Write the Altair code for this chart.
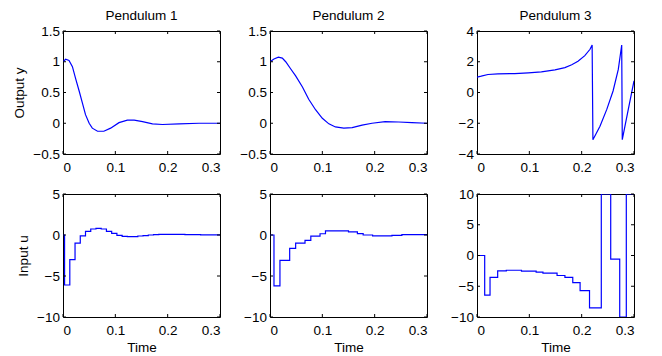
import altair as alt
import pandas as pd

# ---------------- data ----------------
# Pendulum 1, output y
t_y1 = [0, 0.005, 0.0115, 0.018, 0.024, 0.031, 0.037, 0.043, 0.050, 0.056, 0.066, 0.078,
        0.091, 0.107, 0.123, 0.136, 0.152, 0.171, 0.19, 0.222, 0.26, 0.3]
v_y1 = [1.0, 1.04, 1.02, 0.92, 0.73, 0.52, 0.33, 0.14, 0.0, -0.08, -0.13, -0.13,
        -0.08, 0.01, 0.05, 0.05, 0.025, -0.01, -0.02, -0.01, 0.0, 0.0]
# Pendulum 2, output y
t_y2 = [0, 0.0076, 0.016, 0.0235, 0.03, 0.039, 0.049, 0.062, 0.074, 0.087, 0.10, 0.1125,
        0.125, 0.141, 0.157, 0.176, 0.195, 0.22, 0.246, 0.271, 0.3]
v_y2 = [1.0, 1.045, 1.075, 1.06, 1.0, 0.89, 0.77, 0.59, 0.39, 0.22, 0.08, -0.01,
        -0.06, -0.08, -0.07, -0.03, 0.0, 0.025, 0.02, 0.01, 0.0]
# Pendulum 3, output y (wrapped angle)
t_y3 = [0, 0.008, 0.021, 0.04, 0.072, 0.098, 0.123, 0.149, 0.168, 0.181, 0.193, 0.206,
        0.216, 0.220, 0.2215, 0.235, 0.248, 0.26, 0.27, 0.2765, 0.2776, 0.289, 0.3]
v_y3 = [1.0, 1.06, 1.17, 1.21, 1.23, 1.28, 1.34, 1.47, 1.62, 1.8, 2.03, 2.4,
        2.81, 3.09, -3.07, -2.2, -1.1, 0.1, 1.5, 3.09, -3.07, -1.12, 0.76]

# Inputs u (zero-order hold: value holds from its time until the next)
t_u1 = [0, 0.003, 0.013, 0.023, 0.033, 0.043, 0.053, 0.063, 0.073, 0.083, 0.093, 0.103,
        0.113, 0.123, 0.143, 0.153, 0.163, 0.173, 0.183, 0.233, 0.263, 0.3]
v_u1 = [0, -6.1, -3.0, -1.0, -0.1, 0.45, 0.73, 0.8, 0.73, 0.45, 0.2, -0.04,
        -0.16, -0.2, -0.12, -0.08, 0.0, 0.04, 0.08, 0.05, 0.02, 0.02]
t_u2 = [0, 0.0076, 0.019, 0.0376, 0.049, 0.0669, 0.078, 0.0956, 0.106, 0.150, 0.167,
        0.178, 0.196, 0.233, 0.252, 0.3]
v_u2 = [0, -6.2, -3.1, -1.63, -1.0, -0.65, -0.14, 0.15, 0.5, 0.37, 0.16,
        0.0, -0.1, -0.04, 0.04, 0.04]
t_u3 = [0, 0.0147, 0.0249, 0.0395, 0.056, 0.085, 0.113, 0.126, 0.153, 0.168, 0.183,
        0.197, 0.215, 0.2375, 0.2555, 0.2727, 0.2853, 0.3]
v_u3 = [0, -6.45, -3.55, -2.5, -2.4, -2.55, -2.7, -2.85, -3.25, -3.55, -4.4,
        -5.7, -8.5, 10, -0.6, -10, 10, 10]

titles = ["Pendulum 1", "Pendulum 2", "Pendulum 3"]
x_ticks = [0, 0.1, 0.2, 0.3]
y_ticks_12 = [-0.5, 0, 0.5, 1, 1.5]
y_ticks_3 = [-4, -2, 0, 2, 4]
u_ticks_12 = [-10, -5, 0, 5]
u_ticks_3 = [-10, -5, 0, 5, 10]

W, H = 157, 123
BLUE = "#0000ff"
FONT = "Liberation Sans"
FS = 13.5


def panel(ts, vs, ydom, yticks, title=None, ytitle=None, xtitle=None, step=False):
    df = pd.DataFrame({"t": ts, "v": vs})
    xs = alt.Scale(domain=[0, 0.3], nice=False, zero=False)
    ys = alt.Scale(domain=ydom, nice=False, zero=False)
    xax = alt.Axis(values=x_ticks, format="~r", title=xtitle if xtitle else None)
    yax = alt.Axis(values=yticks, format="~r", title=ytitle if ytitle else None)
    line = alt.Chart(df).mark_line(
        color=BLUE, strokeWidth=1.2, clip=True,
        interpolate="step-after" if step else "linear",
    ).encode(
        x=alt.X("t:Q", scale=xs, axis=xax),
        y=alt.Y("v:Q", scale=ys, axis=yax),
    )
    xt = pd.DataFrame({"t": x_ticks})
    yt = pd.DataFrame({"v": yticks})
    tb = alt.Chart(xt).mark_rule(color="black", strokeWidth=1).encode(
        x=alt.X("t:Q", scale=xs, axis=xax), y=alt.value(H), y2=alt.value(H - 3))
    tt = alt.Chart(xt).mark_rule(color="black", strokeWidth=1).encode(
        x=alt.X("t:Q", scale=xs, axis=xax), y=alt.value(0), y2=alt.value(3))
    tl = alt.Chart(yt).mark_rule(color="black", strokeWidth=1).encode(
        y=alt.Y("v:Q", scale=ys, axis=yax), x=alt.value(0), x2=alt.value(3))
    tr = alt.Chart(yt).mark_rule(color="black", strokeWidth=1).encode(
        y=alt.Y("v:Q", scale=ys, axis=yax), x=alt.value(W), x2=alt.value(W - 3))
    ch = alt.layer(line, tb, tt, tl, tr).properties(width=W, height=H)
    if title:
        ch = ch.properties(title=alt.Title(title, fontSize=FS, font=FONT, color="black",
                                           fontWeight="normal", offset=2, frame="group"))
    return ch


panels = [
    panel(t_y1, v_y1, [-0.5, 1.5], y_ticks_12, titles[0], "Output  y"),
    panel(t_y2, v_y2, [-0.5, 1.5], y_ticks_12, titles[1]),
    panel(t_y3, v_y3, [-4, 4], y_ticks_3, titles[2]),
    panel(t_u1, v_u1, [-10, 5], u_ticks_12, None, "Input  u", "Time", step=True),
    panel(t_u2, v_u2, [-10, 5], u_ticks_12, None, None, "Time", step=True),
    panel(t_u3, v_u3, [-10, 10], u_ticks_3, None, None, "Time", step=True),
]

chart = alt.concat(*panels, columns=3, spacing={"row": 40, "column": 50},
                   bounds="flush").properties(
    padding={"left": 3, "top": 0, "right": 5, "bottom": 5},
).configure_view(
    stroke="black", strokeWidth=1
).configure_axis(
    domain=False, ticks=False, grid=False,
    labelFont=FONT, labelFontSize=FS, labelColor="black", labelPadding=6.5,
    titleFont=FONT, titleFontSize=FS, titleFontWeight="normal", titleColor="black",
    titlePadding=3,
).configure_axisY(labelPadding=3.5, titlePadding=6.5)

chart.save("out.html", embed_options={"renderer": "svg", "actions": False})
